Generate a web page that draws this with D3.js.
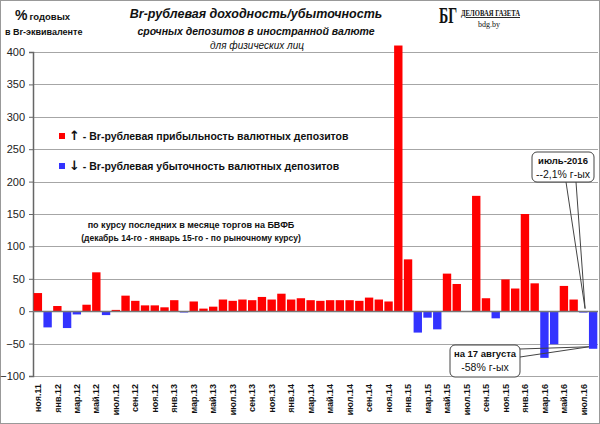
<!DOCTYPE html>
<html>
<head>
<meta charset="utf-8">
<script src="https://cdn.jsdelivr.net/npm/d3@7"></script>
<style>
  body { margin: 0; background: #fff; }
  svg { display: block; font-family: "Liberation Sans", Arial, sans-serif; }
</style>
</head>
<body>
<script>
// months, Nov 2011 - Aug 2016
var months = [
    "ноя.11", "дек.11",
    "янв.12", "фев.12", "мар.12", "апр.12", "май.12", "июн.12", "июл.12", "авг.12", "сен.12", "окт.12", "ноя.12", "дек.12",
    "янв.13", "фев.13", "мар.13", "апр.13", "май.13", "июн.13", "июл.13", "авг.13", "сен.13", "окт.13", "ноя.13", "дек.13",
    "янв.14", "фев.14", "мар.14", "апр.14", "май.14", "июн.14", "июл.14", "авг.14", "сен.14", "окт.14", "ноя.14", "дек.14",
    "янв.15", "фев.15", "мар.15", "апр.15", "май.15", "июн.15", "июл.15", "авг.15", "сен.15", "окт.15", "ноя.15", "дек.15",
    "янв.16", "фев.16", "мар.16", "апр.16", "май.16", "июн.16", "июл.16", "авг.16"
];
// % per year in Br equivalent
var yieldValues = [
    28, -25,
    8, -26, -5, 10, 60, -6, 2, 24, 16, 9, 9, 6,
    17, -2, 15, 4, 7, 18, 16, 18, 17, 22, 18, 27,
    18, 20, 17, 16, 17, 17, 17, 16, 21, 18, 15, 410,
    80, -33, -10, -28, 58, 42, 0, 178, 20, -11, 49, 35,
    150, 43, -72, -51, 39, 18, -2.1, -58
];
var yTicks = [-100, -50, 0, 50, 100, 150, 200, 250, 300, 350, 400];

var W = 600, H = 424;
var margin = {left: 33, right: 2, top: 52, bottom: 48};

var svg = d3.select("body").append("svg")
    .attr("width", W)
    .attr("height", H);

svg.append("rect")
    .attr("x", 0.5).attr("y", 0.5)
    .attr("width", W - 1).attr("height", H - 1)
    .attr("fill", "#fff")
    .attr("stroke", "#999");

var x = d3.scaleBand()
    .domain(months)
    .range([margin.left, W - margin.right])
    .paddingInner(0.14)
    .paddingOuter(0.07);

var y = d3.scaleLinear()
    .domain([-100, 400])
    .range([H - margin.bottom, margin.top]);

// grid
svg.append("g")
    .selectAll("line")
    .data(yTicks)
    .enter()
    .append("line")
    .attr("x1", margin.left)
    .attr("x2", W - margin.right)
    .attr("y1", function(d) { return Math.round(y(d)) + 0.5; })
    .attr("y2", function(d) { return Math.round(y(d)) + 0.5; })
    .attr("stroke", "#a6a6a6")
    .attr("stroke-width", 1);

// y axis
var yAxis = svg.append("g")
    .attr("transform", "translate(" + margin.left + ",0)")
    .call(d3.axisLeft(y).tickValues(yTicks).tickSize(4).tickPadding(4));
yAxis.select(".domain").attr("stroke", "#666").attr("stroke-width", 1.5);
yAxis.selectAll(".tick line").attr("stroke", "#666");
yAxis.selectAll("text")
    .attr("font-size", 11)
    .attr("fill", "#222")
    .style("font-family", "'Liberation Sans', Arial, sans-serif");

// bars
svg.append("g")
    .selectAll("rect")
    .data(yieldValues)
    .enter()
    .append("rect")
    .attr("x", function(d, i) { return x(months[i]); })
    .attr("width", x.bandwidth())
    .attr("y", function(d) { return y(Math.max(0, d)); })
    .attr("height", function(d) { return Math.abs(y(d) - y(0)); })
    .attr("fill", function(d) { return d >= 0 ? "#ff0000" : "#3333ff"; });

// zero line
svg.append("line")
    .attr("x1", margin.left).attr("x2", W - margin.right)
    .attr("y1", Math.round(y(0)) + 0.5).attr("y2", Math.round(y(0)) + 0.5)
    .attr("stroke", "#777")
    .attr("stroke-width", 1.5);

// x labels, every other month
svg.append("g")
    .selectAll("text")
    .data(months.filter(function(d, i) { return i % 2 === 0; }))
    .enter()
    .append("text")
    .attr("transform", function(d) {
        return "translate(" + (x(d) + x.bandwidth() / 2) + "," + (H - margin.bottom + 8) + ") rotate(-90)";
    })
    .attr("dy", "0.35em")
    .attr("text-anchor", "end")
    .attr("font-size", 9)
    .attr("font-weight", "bold")
    .attr("fill", "#111")
    .text(function(d) { return d; });

// titles
svg.append("text")
    .attr("x", 256).attr("y", 18)
    .attr("text-anchor", "middle")
    .attr("font-size", 12.5)
    .attr("font-weight", "bold")
    .attr("font-style", "italic")
    .attr("fill", "#111")
    .text("Br-рублевая доходность/убыточность");
svg.append("text")
    .attr("x", 256).attr("y", 35)
    .attr("text-anchor", "middle")
    .attr("font-size", 10.5)
    .attr("font-weight", "bold")
    .attr("font-style", "italic")
    .attr("fill", "#111")
    .text("срочных депозитов в иностранной валюте");
svg.append("text")
    .attr("x", 257).attr("y", 49)
    .attr("text-anchor", "middle")
    .attr("font-size", 10)
    .attr("font-style", "italic")
    .attr("fill", "#111")
    .text("для физических лиц");

// units
var unit = svg.append("text")
    .attr("x", 15).attr("y", 20)
    .attr("font-weight", "bold")
    .attr("fill", "#111");
unit.append("tspan").attr("font-size", 14).text("%");
unit.append("tspan").attr("font-size", 9.5).attr("dx", 2).text("годовых");
svg.append("text")
    .attr("x", 5).attr("y", 35)
    .attr("font-size", 9)
    .attr("font-weight", "bold")
    .attr("fill", "#111")
    .text("в Br-эквиваленте");

// logo
svg.append("text")
    .attr("transform", "translate(439,23) scale(1,1.6)")
    .attr("font-family", "'Liberation Serif', 'DejaVu Serif', serif")
    .attr("font-size", 14)
    .attr("font-weight", "bold")
    .attr("fill", "#111")
    .text("БГ");
svg.append("text")
    .attr("x", 461).attr("y", 16)
    .attr("font-family", "'Liberation Serif', 'DejaVu Serif', serif")
    .attr("font-size", 9)
    .attr("font-weight", "bold")
    .attr("fill", "#111")
    .attr("text-decoration", "underline")
    .attr("textLength", 59)
    .attr("lengthAdjust", "spacingAndGlyphs")
    .text("ДЕЛОВАЯ ГАЗЕТА");
svg.append("text")
    .attr("x", 478).attr("y", 27)
    .attr("font-family", "'Liberation Serif', 'DejaVu Serif', serif")
    .attr("font-size", 8)
    .attr("fill", "#111")
    .text("bdg.by");

// legend
var legend = [
    {color: "#ff0000", arrow: "↑", label: " - Br-рублевая прибыльность валютных депозитов", y: 136},
    {color: "#3333ff", arrow: "↓", label: " - Br-рублевая убыточность валютных депозитов", y: 166}
];
legend.forEach(function(l) {
    svg.append("rect")
        .attr("x", 59).attr("y", l.y - 3)
        .attr("width", 6).attr("height", 6)
        .attr("fill", l.color);
    var t = svg.append("text")
        .attr("x", 69).attr("y", l.y)
        .attr("dy", "0.35em")
        .attr("font-size", 10.5)
        .attr("font-weight", "bold")
        .attr("fill", "#111");
    t.append("tspan")
        .attr("font-family", "'DejaVu Sans', sans-serif")
        .attr("font-size", 13)
        .text(l.arrow);
    t.append("tspan").text(l.label);
});

// note
svg.append("text")
    .attr("x", 191).attr("y", 228)
    .attr("text-anchor", "middle")
    .attr("font-size", 9)
    .attr("font-weight", "bold")
    .attr("fill", "#111")
    .text("по курсу  последних  в  месяце  торгов  на  БВФБ");
svg.append("text")
    .attr("x", 191).attr("y", 241)
    .attr("text-anchor", "middle")
    .attr("font-size", 8.5)
    .attr("font-weight", "bold")
    .attr("fill", "#111")
    .text("(декабрь 14-го - январь 15-го - по рыночному курсу)");

// callouts
function callout(bx, by, bw, bh, base, tip, line1, line2) {
    var g = svg.append("g");
    g.append("path")
        .attr("d", "M" + base[0][0] + "," + base[0][1] + "L" + tip[0] + "," + tip[1] + "L" + base[1][0] + "," + base[1][1])
        .attr("fill", "none")
        .attr("stroke", "#444")
        .attr("stroke-width", 1);
    g.append("rect")
        .attr("x", bx).attr("y", by)
        .attr("width", bw).attr("height", bh)
        .attr("rx", 5)
        .attr("fill", "#fff")
        .attr("stroke", "#444");
    g.append("text")
        .attr("x", bx + bw / 2).attr("y", by + 12)
        .attr("text-anchor", "middle")
        .attr("font-size", 9.5)
        .attr("font-weight", "bold")
        .attr("fill", "#111")
        .text(line1);
    g.append("text")
        .attr("x", bx + bw / 2).attr("y", by + 26)
        .attr("text-anchor", "middle")
        .attr("font-size", 10.5)
        .attr("fill", "#111")
        .text(line2);
}

var jul16 = months.indexOf("июл.16"), aug16 = months.indexOf("авг.16");
callout(532, 152, 62, 30,
    [[566, 182], [576, 182]],
    [x(months[jul16]) + x.bandwidth() * 0.7, y(yieldValues[jul16]) - 4],
    "июль-2016", "--2,1% г-ых");
callout(450, 345, 70, 32,
    [[520, 349], [520, 357]],
    [x(months[aug16]), y(yieldValues[aug16]) - 2],
    "на  17 августа", "-58% г-ых");
</script>
</body>
</html>
